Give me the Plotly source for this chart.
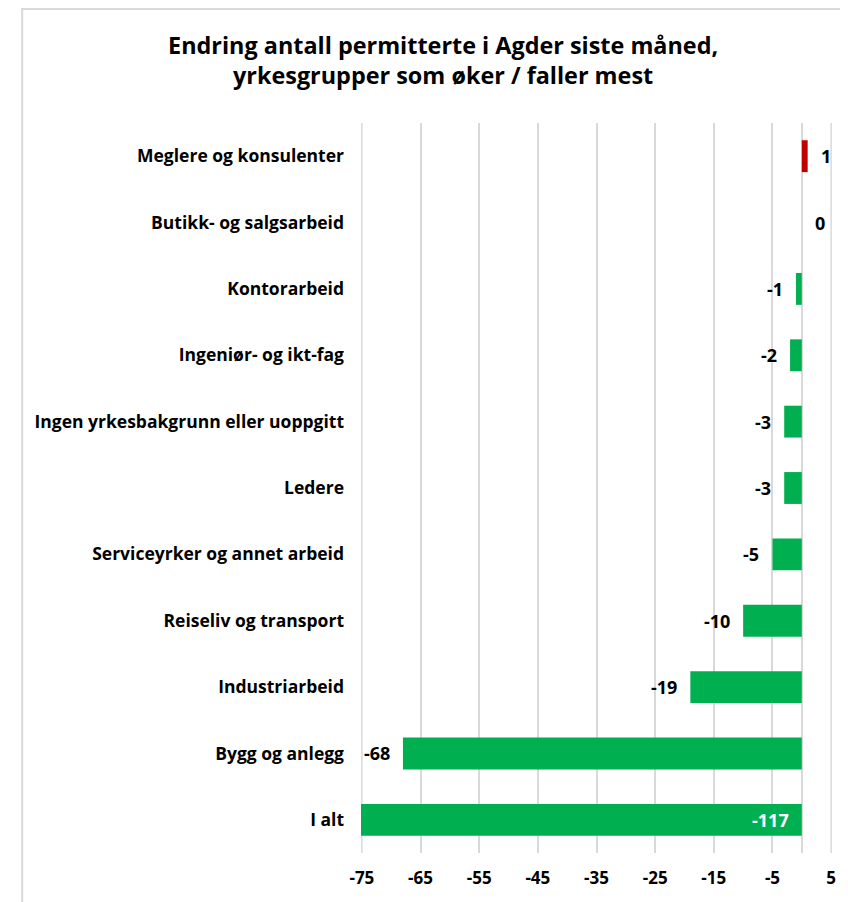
import plotly.graph_objects as go

# categories, top to bottom
categories = [
    "Meglere og konsulenter",
    "Butikk- og salgsarbeid",
    "Kontorarbeid",
    "Ingeniør- og ikt-fag",
    "Ingen yrkesbakgrunn eller uoppgitt",
    "Ledere",
    "Serviceyrker og annet arbeid",
    "Reiseliv og transport",
    "Industriarbeid",
    "Bygg og anlegg",
    "I alt",
]
change = [1, 0, -1, -2, -3, -3, -5, -10, -19, -68, -117]
tick_vals = [-75, -65, -55, -45, -35, -25, -15, -5, 5]
tick_text = [str(v) for v in tick_vals]  # plain hyphen, like the original

GREEN = "#00B050"
RED = "#C00000"
GRID = "#D9D9D9"
FONT = "Open Sans"

x_min, x_max = -75.15, 5.15
colors = [RED if v > 0 else GREEN for v in change]

fig = go.Figure()
fig.add_trace(go.Bar(
    y=categories,
    x=change,
    orientation="h",
    marker=dict(color=colors, line=dict(width=0)),
    width=0.48,
    hoverinfo="skip",
))

# data labels: outside the bar end, except the clipped one which sits inside
for cat, v in zip(categories, change):
    clipped = v < x_min
    fig.add_annotation(
        x=0 if clipped else v, y=cat,
        text=str(v), showarrow=False,
        xanchor="right" if v < 0 else "left",
        xshift=-11 if v < 0 else 11,
        font=dict(family=FONT, size=18, weight="bold",
                  color="white" if clipped else "black"),
    )

# page body has an 8px margin, so the figure is made that much smaller
W, H = 840, 894
ml, mr, mt, mb = 353, 13, 115, 49
pw = W - ml - mr
ph = H - mt - mb

shapes = [
    # light frame round the chart, left and top edges
    dict(type="line", xref="paper", yref="paper",
         x0=(12 - ml) / pw, x1=(12 - ml) / pw,
         y0=(H - mb - 0) / ph, y1=(H - mb - H) / ph,
         line=dict(color=GRID, width=2)),
    dict(type="line", xref="paper", yref="paper",
         x0=(12 - ml) / pw, x1=(W - ml) / pw,
         y0=(H - mb - 1) / ph, y1=(H - mb - 1) / ph,
         line=dict(color=GRID, width=2)),
]
# plotly leaves out grid lines at the very edge, so draw the end ones
for t in (tick_vals[0], tick_vals[-1]):
    shapes.append(dict(type="line", xref="x", yref="paper", layer="below",
                       x0=t, x1=t, y0=0, y1=1,
                       line=dict(color=GRID, width=1.5)))

fig.update_layout(
    width=W, height=H,
    margin=dict(l=ml, r=mr, t=mt, b=mb),
    paper_bgcolor="white",
    plot_bgcolor="white",
    showlegend=False,
    title=dict(
        text="Endring antall permitterte i Agder siste måned,<br>yrkesgrupper som øker / faller mest",
        x=0.518, xref="container", xanchor="center",
        y=1 - 46 / H, yref="container", yanchor="middle",
        font=dict(family=FONT, size=23.4, color="black", weight="bold"),
    ),
    xaxis=dict(
        range=[x_min, x_max],
        tickvals=tick_vals, ticktext=tick_text,
        showgrid=True, gridcolor=GRID, gridwidth=1.5,
        zeroline=True, zerolinecolor=GRID, zerolinewidth=1.5,
        showline=False,
        ticks="", ticklabelstandoff=13,
        tickfont=dict(family=FONT, size=17, color="black", weight="bold"),
        fixedrange=True,
    ),
    yaxis=dict(
        autorange="reversed",
        showgrid=False, zeroline=False, showline=False,
        ticks="", ticklabelstandoff=16,
        tickfont=dict(family=FONT, size=17.5, color="black", weight="bold"),
        fixedrange=True,
    ),
    shapes=shapes,
)

fig.write_html("out.html")
